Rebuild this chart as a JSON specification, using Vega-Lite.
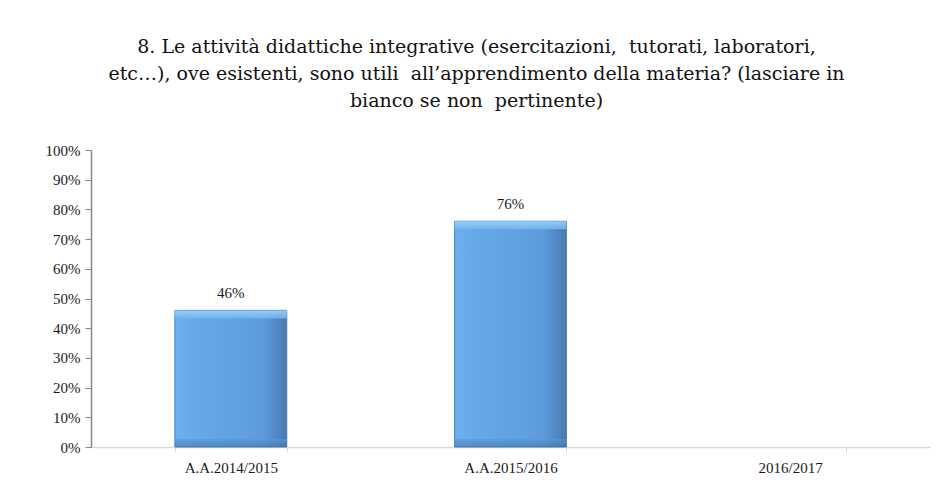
{
  "$schema": "https://vega.github.io/schema/vega-lite/v6.json",
  "width": 839,
  "height": 297,
  "autosize": "none",
  "padding": {"left": 91, "top": 150, "right": 17, "bottom": 49},
  "background": "white",
  "title": {
    "text": ["8. Le attività didattiche integrative (esercitazioni,\u00a0 tutorati, laboratori,", "etc…), ove esistenti, sono utili\u00a0 all’apprendimento della materia? (lasciare in", "bianco se non\u00a0 pertinente)"],
    "font": "DejaVu Serif",
    "fontSize": 19,
    "fontWeight": "normal",
    "color": "#111111",
    "lineHeight": 27,
    "anchor": "middle",
    "offset": 32,
    "dx": -34
  },
  "data": {
    "values": [
      {"anno": "A.A.2014/2015", "valore": 0.46},
      {"anno": "A.A.2015/2016", "valore": 0.76},
      {"anno": "2016/2017", "valore": null}
    ]
  },
  "config": {
    "view": {"stroke": null},
    "axis": {"labelFont": "Liberation Serif", "labelFontSize": 15, "labelColor": "#1a1a1a", "grid": false, "title": null}
  },
  "encoding": {
    "x": {
      "field": "anno",
      "type": "nominal",
      "sort": null,
      "scale": {"domain": ["A.A.2014/2015", "A.A.2015/2016", "2016/2017"], "paddingInner": 0.6, "paddingOuter": 0.3},
      "axis": {"labelAngle": 0, "domainColor": "#d9d9d9", "tickColor": "#d9d9d9", "tickSize": 5, "tickBand": "extent", "labelPadding": 8, "domainWidth": 1.5}
    },
    "y": {
      "field": "valore",
      "type": "quantitative",
      "scale": {"domain": [0, 1]},
      "axis": {"format": ".0%", "values": [0, 0.1, 0.2, 0.3, 0.4, 0.5, 0.6, 0.7, 0.8, 0.9, 1], "domainColor": "#868686", "tickColor": "#868686", "tickSize": 6, "labelPadding": 5, "domainWidth": 1.5}
    }
  },
  "layer": [
    {
      "mark": {
        "type": "bar",
        "stroke": "#4a7fb8",
        "strokeWidth": 1,
        "color": {
          "gradient": "linear",
          "x1": 0, "y1": 0, "x2": 1, "y2": 0,
          "stops": [
            {"offset": 0, "color": "#6cb0ee"},
            {"offset": 0.2, "color": "#66a9e8"},
            {"offset": 0.8, "color": "#5c9cdc"},
            {"offset": 1, "color": "#4679b2"}
          ]
        }
      }
    },
    {
      "mark": {
        "type": "bar",
        "y2Offset": 8,
        "strokeWidth": 0,
        "opacity": 0.85,
        "color": {
          "gradient": "linear",
          "x1": 0, "y1": 0, "x2": 0, "y2": 1,
          "stops": [
            {"offset": 0, "color": "#a4d4fa"},
            {"offset": 1, "color": "#72b4ef"}
          ]
        }
      },
      "encoding": {"y2": {"field": "valore"}}
    },
    {
      "mark": {
        "type": "bar",
        "y2Offset": -8,
        "strokeWidth": 0,
        "opacity": 0.6,
        "color": {
          "gradient": "linear",
          "x1": 0, "y1": 0, "x2": 0, "y2": 1,
          "stops": [
            {"offset": 0, "color": "#5a98d6"},
            {"offset": 1, "color": "#3f74ae"}
          ]
        }
      },
      "encoding": {"y": {"datum": 0}, "y2": {"datum": 0}, "opacity": {"condition": {"test": "datum.valore == null", "value": 0}, "value": 0.6}}
    },
    {
      "mark": {"type": "text", "dy": -17, "font": "Liberation Serif", "fontSize": 15, "color": "#1a1a1a"},
      "encoding": {"text": {"field": "valore", "type": "quantitative", "format": ".0%"}}
    }
  ]
}
